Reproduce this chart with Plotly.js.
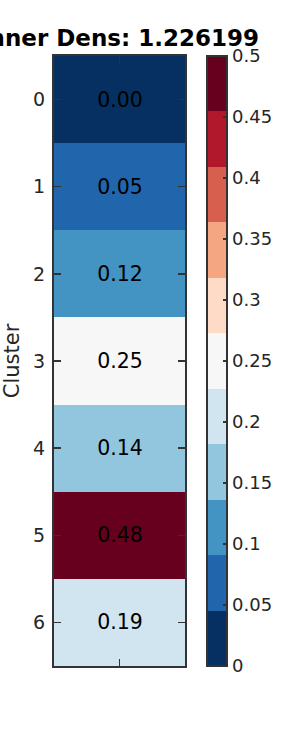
<!DOCTYPE html>
<html>
<head>
<meta charset="utf-8">
<script src="https://cdn.plot.ly/plotly-3.0.1.min.js"></script>
<style>html,body{margin:0;padding:0;background:#fff;}#chart{width:300px;height:750px;}</style>
</head>
<body>
<div id="chart"></div>
<script>
// Data
const clusters = ['0', '1', '2', '3', '4', '5', '6'];
const densities = [0.00, 0.05, 0.12, 0.25, 0.14, 0.48, 0.19];
const titleText = 'Inner Dens: 1.226199';
const cbTicks = [0, 0.05, 0.1, 0.15, 0.2, 0.25, 0.3, 0.35, 0.4, 0.45, 0.5];
const paletteColors = ['#053061', '#2166ac', '#4393c3', '#92c5de', '#d1e5f0', '#f7f7f7',
                       '#fddbc7', '#f4a582', '#d6604d', '#b2182b', '#67001f'];

// Discrete colorscale
const n = paletteColors.length;
const colorscale = [];
paletteColors.forEach((c, i) => {
  colorscale.push([i / n, c]);
  colorscale.push([(i + 1) / n, c]);
});

const z = densities.map(v => [v]);
const font = 'DejaVu Sans, sans-serif';
const dark = '#333333';
const textCol = '#262626';

const plotL = 54, plotR = 185;
const trace = {
  type: 'heatmap',
  z: z,
  x: [0],
  y: clusters,
  zmin: 0,
  zmax: 0.5,
  colorscale: colorscale,
  texttemplate: '%{z:.2f}',
  textfont: {family: font, size: 20.5, color: '#000000'},
  hoverinfo: 'skip',
  colorbar: {
    x: (206.5 - plotL) / (plotR - plotL),
    xanchor: 'left',
    xpad: 0,
    ypad: 0,
    y: 0.5,
    yanchor: 'middle',
    len: 1,
    lenmode: 'fraction',
    thickness: 20,
    outlinewidth: 2,
    outlinecolor: dark,
    tickmode: 'array',
    tickvals: cbTicks,
    ticktext: cbTicks.map(v => String(v)),
    ticks: 'inside',
    ticklen: 5,
    tickwidth: 1.5,
    tickcolor: dark,
    tickfont: {family: font, size: 18, color: textCol}
  }
};

const layout = {
  width: 300,
  height: 750,
  margin: {l: plotL, r: 300 - plotR, t: 56, b: 84, pad: 0},
  paper_bgcolor: '#ffffff',
  plot_bgcolor: '#ffffff',
  title: {
    text: titleText,
    font: {family: font, size: 23, color: '#000000', weight: 'bold'},
    xref: 'container',
    x: 119.5 / 300,
    xanchor: 'center',
    yref: 'container',
    y: 1 - 38 / 750,
    yanchor: 'middle'
  },
  xaxis: {
    range: [-0.5, 0.5],
    tickmode: 'array',
    tickvals: [0],
    showticklabels: false,
    ticks: 'inside',
    ticklen: 7,
    tickwidth: 1.5,
    tickcolor: dark,
    showline: true,
    linecolor: dark,
    linewidth: 2,
    mirror: 'ticks',
    showgrid: false,
    zeroline: false,
    fixedrange: true
  },
  yaxis: {
    type: 'category',
    autorange: 'reversed',
    ticks: 'inside',
    ticklen: 7,
    tickwidth: 1.5,
    tickcolor: dark,
    showline: true,
    linecolor: dark,
    linewidth: 2,
    mirror: 'ticks',
    showgrid: false,
    zeroline: false,
    ticklabelstandoff: 3,
    tickfont: {family: font, size: 19, color: textCol},
    title: {text: 'Cluster', font: {family: font, size: 21, color: textCol}, standoff: 8},
    fixedrange: true
  },
  showlegend: false
};

Plotly.newPlot('chart', [trace], layout, {displayModeBar: false, staticPlot: true});
</script>
</body>
</html>
